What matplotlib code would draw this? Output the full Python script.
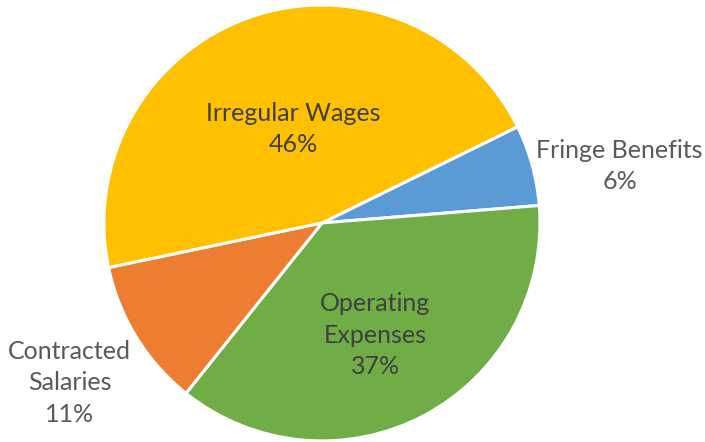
import numpy as np
import matplotlib
matplotlib.use("Agg")
import matplotlib.pyplot as plt

categories = ["Fringe Benefits", "Operating Expenses", "Contracted Salaries", "Irregular Wages"]
display_labels = ["Fringe Benefits", "Operating\nExpenses", "Contracted\nSalaries", "Irregular Wages"]
values = [6, 37, 11, 46]
colors = ["#5B9BD5", "#70AD47", "#ED7D31", "#FFC000"]
label_radius = [1.39, 0.57, 1.37, 0.45]
label_angle_offset = [-4.6, -2.7, 0.8, -1.9]
label_colors = ["#595959", "#404040", "#595959", "#404040"]

plt.rcParams['font.family'] = ['Lato', 'DejaVu Sans']

fig = plt.figure(figsize=(7.05, 4.42), dpi=100)
ax = fig.add_axes([0, 0, 1, 1])
wedges, _ = ax.pie(values, colors=colors, startangle=26.2, counterclock=False,
                   radius=1.0, center=(0, 0),
                   wedgeprops=dict(edgecolor="white", linewidth=2.2))

total = sum(values)
for w, lab, v, r, off, c in zip(wedges, display_labels, values, label_radius,
                                label_angle_offset, label_colors):
    mid = np.deg2rad((w.theta1 + w.theta2) / 2 + off)
    x, y = r * np.cos(mid), r * np.sin(mid)
    ax.text(x, y, f"{lab}\n{round(100 * v / total)}%", ha="center", va="center",
            fontsize=18, color=c, linespacing=1.45)

ax.set_xlim(-1.477, 1.757)
ax.set_ylim(-1.005, 1.023)
ax.set_aspect("auto")
ax.axis("off")
fig.savefig("out.png", dpi=100)
